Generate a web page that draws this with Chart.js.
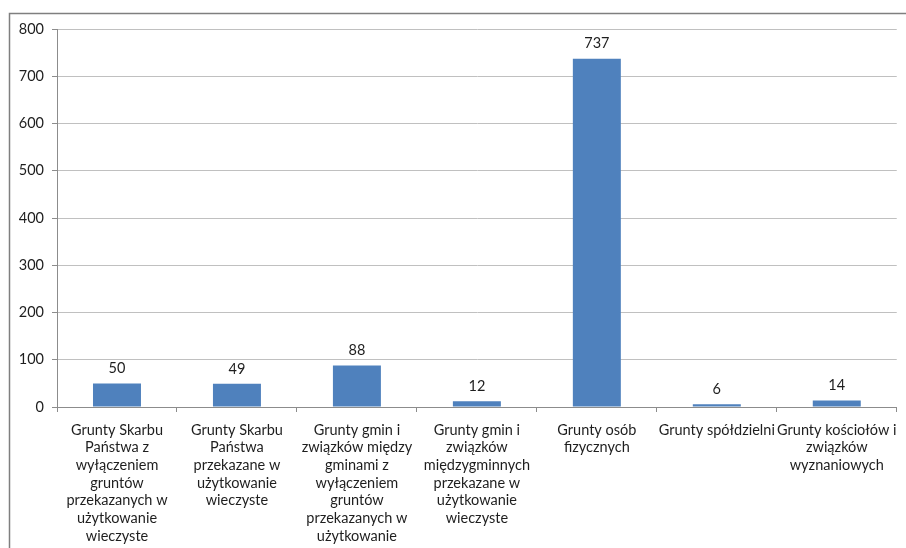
<!DOCTYPE html>
<html>
<head>
<meta charset="utf-8">
<script src="https://cdn.jsdelivr.net/npm/chart.js@4/dist/chart.umd.min.js"></script>
<style>
html,body{margin:0;padding:0;background:#fff;overflow:hidden;}
#wrap{position:relative;width:906px;height:548px;}
</style>
</head>
<body>
<div id="wrap"><canvas id="c" width="906" height="548"></canvas></div>
<script>
const categories = [
  ["Grunty Skarbu", "Państwa z", "wyłączeniem", "gruntów", "przekazanych w", "użytkowanie", "wieczyste"],
  ["Grunty Skarbu", "Państwa", "przekazane w", "użytkowanie", "wieczyste"],
  ["Grunty gmin i", "związków między", "gminami z", "wyłączeniem", "gruntów", "przekazanych w", "użytkowanie"],
  ["Grunty gmin i", "związków", "międzygminnych", "przekazane w", "użytkowanie", "wieczyste"],
  ["Grunty osób", "fizycznych"],
  ["Grunty spółdzielni"],
  ["Grunty kościołów i", "związków", "wyznaniowych"]
];
const values = [50, 49, 88, 12, 737, 6, 14];
const yTicks = [0, 100, 200, 300, 400, 500, 600, 700, 800];

const FONT = 'Lato, "Open Sans", sans-serif';
const TEXT = '#1e1e1e';

const frame = {
  id: 'frame',
  afterDraw(chart) {
    const ctx = chart.ctx;
    ctx.save();
    ctx.strokeStyle = '#7f7f7f';
    ctx.lineWidth = 1.5;
    ctx.beginPath();
    ctx.moveTo(9.5, 560);
    ctx.lineTo(9.5, 13.5);
    ctx.lineTo(920, 13.5);
    ctx.stroke();
    ctx.restore();
  }
};

const valueLabels = {
  id: 'valueLabels',
  afterDatasetsDraw(chart) {
    const ctx = chart.ctx;
    const meta = chart.getDatasetMeta(0);
    ctx.save();
    ctx.font = '14.5px ' + FONT;
    ctx.fillStyle = TEXT;
    ctx.textAlign = 'center';
    ctx.textBaseline = 'middle';
    meta.data.forEach((bar, i) => {
      ctx.fillText(String(values[i]), bar.x, bar.y - 15);
    });
    ctx.restore();
  }
};

new Chart(document.getElementById('c'), {
  type: 'bar',
  data: {
    labels: categories,
    datasets: [{
      data: values,
      backgroundColor: '#4F81BD',
      borderWidth: 0,
      categoryPercentage: 1,
      barPercentage: 0.4
    }]
  },
  options: {
    responsive: false,
    devicePixelRatio: 1,
    animation: false,
    layout: { padding: { left: 0, right: 7, top: 29, bottom: 0 } },
    plugins: { legend: { display: false }, tooltip: { enabled: false } },
    scales: {
      x: {
        offset: true,
        grid: { offset: true, drawOnChartArea: false, drawTicks: true, tickLength: 5, color: '#8c8c8c' },
        border: { color: '#8c8c8c' },
        ticks: {
          autoSkip: false, maxRotation: 0, minRotation: 0, padding: 9,
          color: TEXT, font: { family: FONT, size: 14.5, lineHeight: 1.22 }
        },
        afterFit(scale) { scale.height = 548 - 407; }
      },
      y: {
        min: 0, max: 800,
        afterBuildTicks(scale) { scale.ticks = yTicks.map(v => ({ value: v })); },
        grid: { color: '#c0c0c0', tickLength: 5, tickColor: '#8c8c8c' },
        border: { color: '#8c8c8c' },
        ticks: { padding: 8, color: TEXT, font: { family: FONT, size: 14.5 } },
        afterFit(scale) { scale.width = 57; }
      }
    }
  },
  plugins: [valueLabels, frame]
});
</script>
</body>
</html>
